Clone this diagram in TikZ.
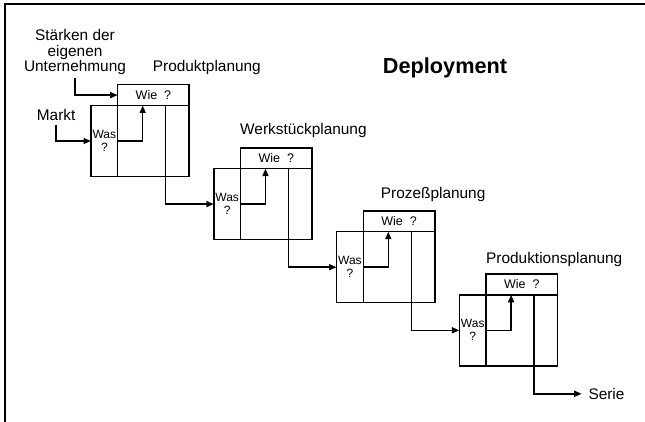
\documentclass[tikz,border=0pt]{standalone}
\usepackage{fontspec}
\setmainfont{Liberation Sans}
\usetikzlibrary{arrows.meta,calc}
\begin{document}
\begin{tikzpicture}[x=1pt,y=-1pt,
  box/.style={draw,line width=1.5pt,rectangle,inner sep=0pt,outer sep=0pt},
  wiebox/.style={box,minimum width=71.5pt,minimum height=20.8pt,font=\fontsize{12.5}{13}\selectfont},
  mainbox/.style={box,minimum width=71.5pt,minimum height=71pt},
  wasbox/.style={box,minimum width=26.7pt,minimum height=71pt,align=center,font=\fontsize{12}{13}\selectfont},
  lab/.style={inner sep=0pt,font=\fontsize{15.4}{15.5}\selectfont},
  conn/.style={line width=1.5pt,-{Triangle[length=7.5pt,width=6pt]}},
]
\useasboundingbox (0,0) rectangle (645,422);
\draw[line width=1.8pt] (645,4) -- (5,4) -- (5,422);

% stages
\foreach \i/\x/\y in {1/117.7/84.7, 2/240.5/147.8, 3/363.3/210.9, 4/486.1/274.0}{
  \node[wiebox,anchor=north west] (wie\i) at (\x,\y) {Wie\ \ ?};
  \node[mainbox,anchor=north west] (main\i) at (wie\i.south west) {};
  \node[wasbox,anchor=north east] (was\i) at (main\i.north west) {Was\\?};
  \coordinate (up\i) at ($(main\i.north west)+(25,0)$);
  \coordinate (div\i) at ($(main\i.north west)+(48,0)$);
  \draw[conn] (was\i.east) -| (up\i);
}

% labels
\node[lab,align=center,anchor=south] (staerken) at (75,75) {Stärken der\\eigenen\\Unternehmung};
\node[lab,anchor=base west] (markt) at (36.7,120.7) {Markt};
\node[lab,anchor=base west] (t1) at (152.7,71.7) {Produktplanung};
\node[lab,anchor=base west] (t2) at (240,135) {Werkstückplanung};
\node[lab,anchor=base west] (t3) at (380.7,199) {Prozeßplanung};
\node[lab,anchor=base west] (t4) at (486,263.3) {Produktionsplanung};
\node[lab,anchor=base west,inner xsep=6.6pt] (serie) at (581.7,399.3) {Serie};
\node[inner sep=0pt,anchor=base west,font=\fontsize{21.7}{24}\selectfont\bfseries] (deploy) at (382.7,73.3) {Deployment};

% connectors
\draw[conn,shorten <=3pt] (staerken.south) |- (wie1.west);
\draw[conn,shorten <=4pt] (markt.south) |- (was1.west);
\draw[conn] (div1) |- (was2.west);
\draw[conn] (div2) |- (was3.west);
\draw[conn] (div3) |- (was4.west);
\draw[conn] (div4) |- (serie.west);
\end{tikzpicture}
\end{document}
